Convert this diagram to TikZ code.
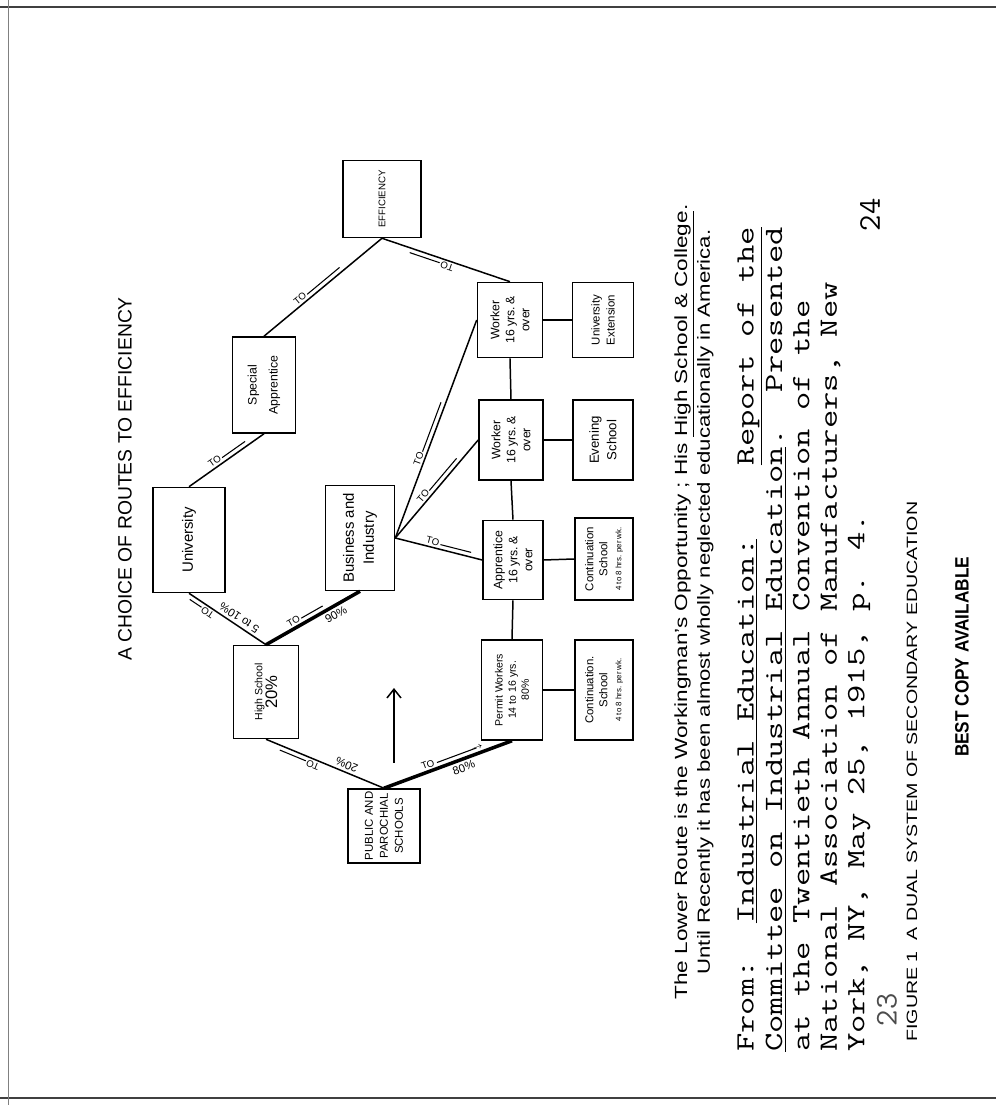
\documentclass[tikz,border=0pt]{standalone}
\usepackage{fontspec}
\setsansfont{Liberation Sans}
\usepackage{graphicx}
\usetikzlibrary{arrows.meta}

\begin{document}
\begin{tikzpicture}[x=0.02cm,y=0.02cm,rotate=90,transform shape,
   every node/.style={font=\sffamily\fontsize{7}{8.5}\selectfont,align=center},
   box/.style={draw,line width=0.9pt,inner sep=1pt},
   route/.style={line width=0.85pt},
   mainroute/.style={line width=2pt},
   tolbl/.style={sloped,allow upside down,above,inner sep=1pt,font=\sffamily\fontsize{5.5}{6}\selectfont},
   pct/.style={sloped,allow upside down,below,inner sep=1.5pt,font=\sffamily\fontsize{6.5}{7}\selectfont},
   scanedge/.style={line width=1.5pt,black!75}]
  \useasboundingbox (0,0) rectangle (1105,996);
  % edges of the scanned sheet
  \draw[scanedge] (1098,0) -- (1098,996);
  \draw[scanedge] (7,0) -- (7,996);
  \draw[line width=0.5pt,black!50] (0,988) -- (1105,988);
  % upper route
  \node[box,minimum width=1.48cm,minimum height=1.44cm,font=\sffamily\fontsize{6.5}{8.5}\selectfont] (pub) at (279,612) {PUBLIC AND\\PAROCHIAL\\SCHOOLS};
  \node[box,minimum width=1.86cm,minimum height=1.3cm] (hs) at (413,730) {{\fontsize{6}{7}\selectfont High School}\\{\fontsize{9.5}{11}\selectfont 20\%}};
  \node[box,minimum width=2.1cm,minimum height=1.44cm,font=\sffamily\fontsize{8.5}{10}\selectfont] (univ) at (565,807) {University};
  \node[box,minimum width=2.1cm,minimum height=1.38cm,font=\sffamily\fontsize{8.5}{11.5}\selectfont] (bi) at (567,636) {Business and\\Industry};
  \node[box,minimum width=1.92cm,minimum height=1.26cm,font=\sffamily\fontsize{7}{12}\selectfont] (sa) at (720,732) {Special\\Apprentice};
  \node[box,minimum width=1.54cm,minimum height=1.56cm,font=\sffamily\fontsize{5.5}{6}\selectfont] (eff) at (906,614) {EFFICIENCY};
  % lower route
  \node[box,minimum width=2cm,minimum height=1.22cm,font=\sffamily\fontsize{6}{7.5}\selectfont] (pw) at (415,484) {Permit Workers\\14 to 16 yrs.\\80\%};
  \node[box,minimum width=1.58cm,minimum height=1.2cm] (ap) at (545,483) {Apprentice\\16 yrs.\,\&\\over};
  \node[box,minimum width=1.6cm,minimum height=1.28cm] (wk1) at (665,485) {Worker\\16 yrs.\,\&\\over};
  \node[box,minimum width=1.5cm,minimum height=1.3cm] (wk2) at (785,486) {Worker\\16 yrs.\,\&\\over};
  \node[box,minimum width=2cm,minimum height=1.16cm,font=\sffamily\fontsize{6.5}{8}\selectfont] (cs1) at (415,392) {Continuation.\\School\\{\fontsize{4.5}{6}\selectfont 4 to 8 hrs. per wk.}};
  \node[box,minimum width=1.64cm,minimum height=1.16cm,font=\sffamily\fontsize{6.5}{8}\selectfont] (cs2) at (546,392) {Continuation\\School\\{\fontsize{4.5}{6}\selectfont 4 to 8 hrs. per wk.}};
  \node[box,minimum width=1.6cm,minimum height=1.2cm,font=\sffamily\fontsize{7.5}{10}\selectfont] (ev) at (665,393) {Evening\\School};
  \node[box,minimum width=1.5cm,minimum height=1.22cm,font=\sffamily\fontsize{6.5}{8.5}\selectfont] (ue) at (785,393) {University\\Extension};
  % routes
  \draw[route] (pub.east) -- node[tolbl,pos=.7]{TO\,\rule[.3ex]{16pt}{.6pt}} node[pct,pos=.34]{20\%} (hs.west);
  \draw[mainroute] (pub.east) -- node[tolbl,pos=.55]{TO\;\rule[.3ex]{24pt}{.6pt}\kern-3pt$\rightarrow$} node[pct,pos=.6]{80\%} (pw.west);
  \draw[route] (hs.east) -- node[tolbl,pos=.8]{TO\,\rule[.3ex]{8pt}{.6pt}} node[pct,pos=.4]{5 to 10\%} (univ.west);
  \draw[mainroute] (hs.east) -- node[tolbl,pos=.45]{TO\,\rule[.3ex]{14pt}{.6pt}} node[pct,pos=.7]{90\%} (bi.west);
  \draw[route] (univ.east) -- node[tolbl,pos=.55]{TO\,\rule[.3ex]{16pt}{.6pt}} (sa.west);
  \draw[route] (sa.east) -- node[tolbl,pos=.48]{TO\,\rule[.3ex]{24pt}{.6pt}} (eff.west);
  \draw[route] (wk2.east) -- node[tolbl,pos=.6]{TO\,\rule[.3ex]{18pt}{.6pt}} (eff.west);
  \draw[route] (bi.south) -- node[tolbl,pos=.6]{TO\,\rule[.3ex]{18pt}{.6pt}} (ap.north);
  \draw[route] (bi.south) -- node[tolbl,pos=.56]{TO\,\rule[.3ex]{24pt}{.6pt}} (wk1.north);
  \draw[route] (bi.south) -- node[tolbl,pos=.47]{TO\,\rule[.3ex]{30pt}{.6pt}} (wk2.north);
  \draw[route] (pw.east) -- (ap.west);
  \draw[route] (ap.east) -- (wk1.west);
  \draw[route] (wk1.east) -- (wk2.west);
  \foreach \a/\b in {pw/cs1,ap/cs2,wk1/ev,wk2/ue} {\draw[route] (\a.south)--(\b.north);}
  \coordinate (up0) at (342,602);
  \coordinate (up1) at (417,602);
  \draw[route,-{Straight Barb[length=5pt,width=8pt]}] (up0) -- (up1);
  % texts round the chart
  \node[font=\sffamily\fontsize{11}{13}\selectfont] (title) at (626,871) {A CHOICE OF ROUTES TO EFFICIENCY};
  \node[font=\sffamily\fontsize{10}{13}\selectfont] (note) at (503,302) {\resizebox{15.9cm}{\height}{The Lower Route is the Workingman's Opportunity ; His \underline{High School \& College}.}\\\resizebox{14.9cm}{\height}{Until Recently it has been almost wholly neglected educationally in America.}};
  \node[anchor=north west,inner sep=0pt,font=\ttfamily\fontsize{15}{15.6}\selectfont] (cite) at (53,262) {\scalebox{1.35}[1]{\begin{tabular}{@{}l@{}}From:~~\underline{Industrial Education:}~~~~\underline{Report of the}\\\underline{Committee on Industrial Education}.~~Presented\\at the Twentieth Annual Convention of the\\National Association of Manufacturers, New\\York, NY, May 25, 1915, p. 4.\end{tabular}}};
  \node[anchor=west,inner sep=0pt,font=\sffamily\fontsize{8.5}{10}\selectfont] (fig) at (63,84) {\resizebox{10.8cm}{\height}{FIGURE 1~~A DUAL SYSTEM OF SECONDARY EDUCATION}};
  \node[font=\sffamily\bfseries\fontsize{11}{12}\selectfont] (best) at (448,34) {\resizebox{4cm}{\height}{BEST COPY AVAILABLE}};
  \node[font=\ttfamily\fontsize{18}{18}\selectfont] (pgb) at (890,126) {24};
  \node[font=\ttfamily\fontsize{18}{18}\selectfont,text=black!70] (pga) at (95,109) {23};
\end{tikzpicture}
\end{document}
